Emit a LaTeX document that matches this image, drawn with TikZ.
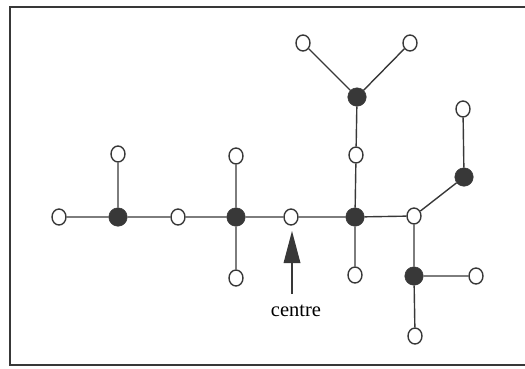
\documentclass[tikz,border=0pt]{standalone}
\usepackage{fontspec}
\setmainfont{Liberation Serif}
\usetikzlibrary{shapes.geometric}
\definecolor{ink}{HTML}{383838}
\begin{document}
\begin{tikzpicture}[x=1pt,y=-1pt,
  open/.style={ellipse,draw=ink,line width=1.4pt,fill=white,minimum width=14pt,minimum height=16pt,inner sep=0pt},
  full/.style={circle,draw=ink,fill=ink,line width=0.5pt,minimum size=18.5pt,inner sep=0pt},
  edge/.style={draw=ink,line width=1.4pt},
  frame/.style={draw=ink,line width=2pt}]
\useasboundingbox (0,0) rectangle (525,368);
\draw[frame] (526,7) -- (10,7) -- (10,365) -- (526,365);
% nodes
\node[open] (a) at (59,217) {};
\node[full] (b) at (118,217) {};
\node[open] (bu) at (118,154) {};
\node[open] (c) at (178,217) {};
\node[full] (d) at (236,217) {};
\node[open] (du) at (236,156) {};
\node[open] (dd) at (236,278) {};
\node[open] (e) at (291,217) {};
\node[full] (f) at (355,217) {};
\node[open] (fu) at (356,155) {};
\node[full] (fuu) at (357,97) {};
\node[open] (tl) at (303,43) {};
\node[open] (tr) at (410,43) {};
\node[open] (fd) at (355,275) {};
\node[open] (g) at (414,216) {};
\node[full] (h) at (464,177) {};
\node[open] (hu) at (463,109) {};
\node[full] (k) at (414,276) {};
\node[open] (kr) at (476,276) {};
\node[open] (kd) at (415,336) {};
% edges
\path[edge] (a) -- (b) (b) -- (c) (c) -- (d) (d) -- (e) (e) -- (f) (f) -- (g)
  (b) -- (bu) (d) -- (du) (d) -- (dd) (f) -- (fu) (fu) -- (fuu) (fuu) -- (tl) (fuu) -- (tr)
  (f) -- (fd) (g) -- (h) (h) -- (hu) (g) -- (k) (k) -- (kr) (k) -- (kd);
% arrow
\coordinate (tip) at (292,231);
\coordinate (tail) at (292,294);
\node[font=\fontsize{20.5}{24}\selectfont,inner sep=0pt] (lab) at (296,311) {centre};
\draw[ink,line width=1.4pt] (tail) -- (292,262);
\fill[ink] (tip) -- (300.5,263) -- (283.5,263) -- cycle;
\end{tikzpicture}
\end{document}
